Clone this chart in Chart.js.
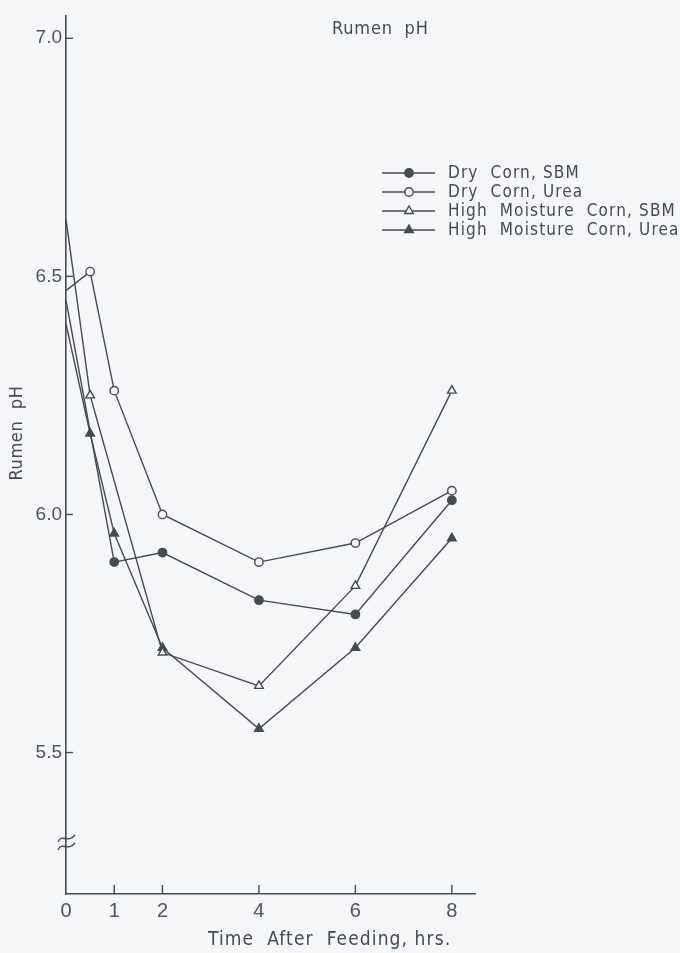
<!DOCTYPE html>
<html>
<head>
<meta charset="utf-8">
<title>Rumen pH</title>
<script src="https://cdn.jsdelivr.net/npm/chart.js@4/dist/chart.umd.min.js"></script>
<style>
  html, body { margin: 0; padding: 0; background: #f5f6f8; }
  #wrap { width: 680px; height: 953px; position: relative; }
  canvas { display: block; }
</style>
</head>
<body>
<div id="wrap"><canvas id="c" width="680" height="953"></canvas></div>
<script>
// Hours after feeding and mean rumen pH per ration
const hours = [0, 0.5, 1, 2, 4, 6, 8];
const seriesNames = ['Dry  Corn, SBM', 'Dry  Corn, Urea', 'High  Moisture  Corn, SBM', 'High  Moisture  Corn, Urea'];
const dryCornSBM  = [6.45, null, 5.90, 5.92, 5.82, 5.79, 6.03];
const dryCornUrea = [6.47, 6.51, 6.26, 6.00, 5.90, 5.94, 6.05];
const hmCornSBM   = [6.62, 6.25, null, 5.71, 5.64, 5.85, 6.26];
const hmCornUrea  = [6.40, 6.17, 5.96, 5.72, 5.55, 5.72, 5.95];
const xTicks = [0, 1, 2, 4, 6, 8];
const yTicks = [5.5, 6.0, 6.5, 7.0];
const yBreakAt = 5.31;

const INK = '#474a4f';
const PAPER = '#f5f6f8';
const LETTER = '"DejaVu Sans Condensed", "Liberation Sans", sans-serif';

const markers = [
  { style: 'circle',   fill: INK },
  { style: 'circle',   fill: PAPER },
  { style: 'triangle', fill: PAPER },
  { style: 'triangle', fill: INK }
];

function toPoints(values) {
  const pts = [];
  hours.forEach((h, i) => { if (values[i] !== null) pts.push({ x: h, y: values[i] }); });
  return pts;
}

const allSeries = [dryCornSBM, dryCornUrea, hmCornSBM, hmCornUrea];
const datasets = allSeries.map((vals, i) => ({
  label: seriesNames[i],
  data: toPoints(vals),
  borderColor: INK,
  borderWidth: 1.4,
  backgroundColor: markers[i].fill,
  pointBackgroundColor: markers[i].fill,
  pointBorderColor: INK,
  pointBorderWidth: 1.4,
  pointStyle: markers[i].style,
  pointRadius: ctx => (ctx.raw && ctx.raw.x === 0) ? 0 : (markers[i].style === 'triangle' ? 5 : 4.2),
  tension: 0,
  fill: false
}));

function spacedText(ctx, text, x, y, font, spacing, align) {
  ctx.save();
  ctx.font = font;
  ctx.fillStyle = INK;
  ctx.textBaseline = 'middle';
  if ('letterSpacing' in ctx) ctx.letterSpacing = spacing + 'px';
  ctx.textAlign = align || 'left';
  ctx.fillText(text, x, y);
  ctx.restore();
}

function drawMarker(ctx, style, fill, x, y) {
  ctx.save();
  ctx.fillStyle = fill;
  ctx.strokeStyle = INK;
  ctx.lineWidth = 1.4;
  ctx.beginPath();
  if (style === 'circle') {
    ctx.arc(x, y, 4.2, 0, Math.PI * 2);
  } else {
    const r = 5;
    ctx.moveTo(x, y - r);
    ctx.lineTo(x + r * 0.866, y + r * 0.5);
    ctx.lineTo(x - r * 0.866, y + r * 0.5);
    ctx.closePath();
  }
  ctx.fill();
  ctx.stroke();
  ctx.restore();
}

const decorations = {
  id: 'decorations',
  afterDraw(chart) {
    const ctx = chart.ctx;
    const xs = chart.scales.x, ys = chart.scales.y;
    const area = chart.chartArea;
    ctx.save();
    ctx.strokeStyle = INK;
    ctx.lineWidth = 1.4;
    // inward tick marks
    xTicks.filter(v => v !== 0).forEach(v => {
      const px = xs.getPixelForValue(v);
      ctx.beginPath(); ctx.moveTo(px, area.bottom); ctx.lineTo(px, area.bottom - 9); ctx.stroke();
    });
    yTicks.forEach(v => {
      const py = ys.getPixelForValue(v);
      ctx.beginPath(); ctx.moveTo(area.left, py); ctx.lineTo(area.left + 7, py); ctx.stroke();
    });
    // axis break symbol
    const by = ys.getPixelForValue(yBreakAt);
    [-4, 4].forEach(off => {
      const cy = by + off;
      ctx.beginPath();
      ctx.moveTo(area.left - 8, cy + 3);
      ctx.bezierCurveTo(area.left - 4, cy - 6, area.left + 2, cy + 5, area.left + 9, cy - 4);
      ctx.stroke();
    });
    ctx.restore();

    // titles
    spacedText(ctx, 'Rumen  pH', 332, 29, '18px ' + LETTER, 0.8);
    spacedText(ctx, 'Time  After  Feeding, hrs.', 208, 940, '19px ' + LETTER, 1.1);
    ctx.save();
    ctx.translate(17, 433);
    ctx.rotate(-Math.PI / 2);
    spacedText(ctx, 'Rumen  pH', 0, 0, '18px ' + LETTER, 0.6, 'center');
    ctx.restore();

    // legend
    chart.data.datasets.forEach((ds, i) => {
      const ry = 173 + i * 19;
      ctx.save();
      ctx.strokeStyle = INK;
      ctx.lineWidth = 1.4;
      ctx.beginPath(); ctx.moveTo(382, ry); ctx.lineTo(435, ry); ctx.stroke();
      ctx.restore();
      drawMarker(ctx, markers[i].style, markers[i].fill, 409, ry);
      spacedText(ctx, ds.label, 448, ry + 1, '17px ' + LETTER, 1.15);
    });
  }
};

new Chart(document.getElementById('c'), {
  type: 'line',
  data: { datasets },
  options: {
    responsive: false,
    animation: false,
    devicePixelRatio: 1,
    layout: { padding: { left: 0, top: 12, right: 205, bottom: 0 } },
    plugins: { legend: { display: false }, tooltip: { enabled: false } },
    scales: {
      x: {
        type: 'linear',
        min: 0,
        max: 8.48,
        afterBuildTicks: s => { s.ticks = xTicks.map(v => ({ value: v })); },
        afterFit: s => { s.height = 59; },
        grid: { display: true, drawOnChartArea: false, drawTicks: false },
        border: { display: true, color: INK, width: 1.6 },
        ticks: {
          color: '#505358',
          font: { family: '"Liberation Sans", Arial, sans-serif', size: 20 },
          padding: 5,
          callback: v => String(v)
        }
      },
      y: {
        type: 'linear',
        min: 5.203,
        max: 7.048,
        afterBuildTicks: s => { s.ticks = yTicks.map(v => ({ value: v })); },
        afterFit: s => { s.width = 66; },
        grid: { display: true, drawOnChartArea: false, drawTicks: false },
        border: { display: true, color: INK, width: 1.6 },
        ticks: {
          color: '#505358',
          font: { family: '"Liberation Sans", Arial, sans-serif', size: 19 },
          padding: 4,
          callback: v => Number(v).toFixed(1)
        }
      }
    }
  },
  plugins: [decorations]
});
</script>
</body>
</html>
